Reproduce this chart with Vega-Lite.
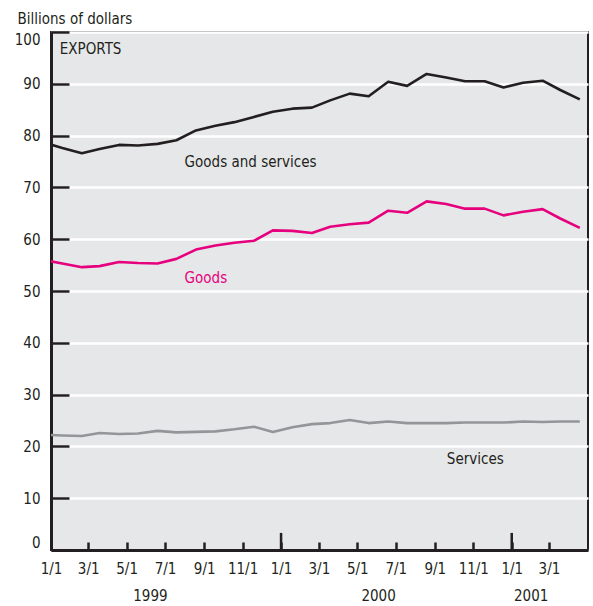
{
  "$schema": "https://vega.github.io/schema/vega-lite/v6.json",
  "width": 537,
  "height": 518,
  "autosize": "none",
  "padding": {"left": 51, "top": 32, "right": 5, "bottom": 56},
  "background": "white",
  "config": {
    "font": "DejaVu Sans Condensed, Roboto, sans-serif",
    "view": {"fill": "#e6e7e8", "stroke": "#231f20", "strokeWidth": 2}
  },
  "datasets": {
    "lines": [
      {"date": "1998-12-19", "series": "Goods and services", "value": 78.7},
      {"date": "1999-01-19", "series": "Goods and services", "value": 77.6},
      {"date": "1999-02-19", "series": "Goods and services", "value": 76.6},
      {"date": "1999-03-19", "series": "Goods and services", "value": 77.4},
      {"date": "1999-04-19", "series": "Goods and services", "value": 78.2},
      {"date": "1999-05-19", "series": "Goods and services", "value": 78.1},
      {"date": "1999-06-19", "series": "Goods and services", "value": 78.4},
      {"date": "1999-07-19", "series": "Goods and services", "value": 79.1},
      {"date": "1999-08-19", "series": "Goods and services", "value": 81.0},
      {"date": "1999-09-19", "series": "Goods and services", "value": 81.9},
      {"date": "1999-10-19", "series": "Goods and services", "value": 82.6},
      {"date": "1999-11-19", "series": "Goods and services", "value": 83.6},
      {"date": "1999-12-19", "series": "Goods and services", "value": 84.6},
      {"date": "2000-01-19", "series": "Goods and services", "value": 85.2},
      {"date": "2000-02-19", "series": "Goods and services", "value": 85.4},
      {"date": "2000-03-19", "series": "Goods and services", "value": 86.8},
      {"date": "2000-04-19", "series": "Goods and services", "value": 88.1},
      {"date": "2000-05-19", "series": "Goods and services", "value": 87.6},
      {"date": "2000-06-19", "series": "Goods and services", "value": 90.4},
      {"date": "2000-07-19", "series": "Goods and services", "value": 89.6},
      {"date": "2000-08-19", "series": "Goods and services", "value": 91.9},
      {"date": "2000-09-19", "series": "Goods and services", "value": 91.2},
      {"date": "2000-10-19", "series": "Goods and services", "value": 90.5},
      {"date": "2000-11-19", "series": "Goods and services", "value": 90.5},
      {"date": "2000-12-19", "series": "Goods and services", "value": 89.3},
      {"date": "2001-01-19", "series": "Goods and services", "value": 90.2},
      {"date": "2001-02-19", "series": "Goods and services", "value": 90.6},
      {"date": "2001-03-19", "series": "Goods and services", "value": 88.8},
      {"date": "2001-04-19", "series": "Goods and services", "value": 87.0},
      {"date": "1998-12-19", "series": "Goods", "value": 56.0},
      {"date": "1999-01-19", "series": "Goods", "value": 55.3},
      {"date": "1999-02-19", "series": "Goods", "value": 54.6},
      {"date": "1999-03-19", "series": "Goods", "value": 54.8},
      {"date": "1999-04-19", "series": "Goods", "value": 55.6},
      {"date": "1999-05-19", "series": "Goods", "value": 55.4},
      {"date": "1999-06-19", "series": "Goods", "value": 55.3},
      {"date": "1999-07-19", "series": "Goods", "value": 56.2},
      {"date": "1999-08-19", "series": "Goods", "value": 58.0},
      {"date": "1999-09-19", "series": "Goods", "value": 58.8},
      {"date": "1999-10-19", "series": "Goods", "value": 59.3},
      {"date": "1999-11-19", "series": "Goods", "value": 59.7},
      {"date": "1999-12-19", "series": "Goods", "value": 61.7},
      {"date": "2000-01-19", "series": "Goods", "value": 61.6},
      {"date": "2000-02-19", "series": "Goods", "value": 61.2},
      {"date": "2000-03-19", "series": "Goods", "value": 62.4},
      {"date": "2000-04-19", "series": "Goods", "value": 62.9},
      {"date": "2000-05-19", "series": "Goods", "value": 63.2},
      {"date": "2000-06-19", "series": "Goods", "value": 65.5},
      {"date": "2000-07-19", "series": "Goods", "value": 65.1},
      {"date": "2000-08-19", "series": "Goods", "value": 67.3},
      {"date": "2000-09-19", "series": "Goods", "value": 66.8},
      {"date": "2000-10-19", "series": "Goods", "value": 65.9},
      {"date": "2000-11-19", "series": "Goods", "value": 65.9},
      {"date": "2000-12-19", "series": "Goods", "value": 64.6},
      {"date": "2001-01-19", "series": "Goods", "value": 65.3},
      {"date": "2001-02-19", "series": "Goods", "value": 65.8},
      {"date": "2001-03-19", "series": "Goods", "value": 64.0},
      {"date": "2001-04-19", "series": "Goods", "value": 62.2},
      {"date": "1998-12-19", "series": "Services", "value": 22.25},
      {"date": "1999-01-19", "series": "Services", "value": 22.1},
      {"date": "1999-02-19", "series": "Services", "value": 22.0},
      {"date": "1999-03-19", "series": "Services", "value": 22.6},
      {"date": "1999-04-19", "series": "Services", "value": 22.4},
      {"date": "1999-05-19", "series": "Services", "value": 22.5},
      {"date": "1999-06-19", "series": "Services", "value": 23.0},
      {"date": "1999-07-19", "series": "Services", "value": 22.7},
      {"date": "1999-08-19", "series": "Services", "value": 22.8},
      {"date": "1999-09-19", "series": "Services", "value": 22.9},
      {"date": "1999-10-19", "series": "Services", "value": 23.3},
      {"date": "1999-11-19", "series": "Services", "value": 23.8},
      {"date": "1999-12-19", "series": "Services", "value": 22.8},
      {"date": "2000-01-19", "series": "Services", "value": 23.7},
      {"date": "2000-02-19", "series": "Services", "value": 24.3},
      {"date": "2000-03-19", "series": "Services", "value": 24.5},
      {"date": "2000-04-19", "series": "Services", "value": 25.1},
      {"date": "2000-05-19", "series": "Services", "value": 24.5},
      {"date": "2000-06-19", "series": "Services", "value": 24.8},
      {"date": "2000-07-19", "series": "Services", "value": 24.5},
      {"date": "2000-08-19", "series": "Services", "value": 24.5},
      {"date": "2000-09-19", "series": "Services", "value": 24.5},
      {"date": "2000-10-19", "series": "Services", "value": 24.6},
      {"date": "2000-11-19", "series": "Services", "value": 24.6},
      {"date": "2000-12-19", "series": "Services", "value": 24.6},
      {"date": "2001-01-19", "series": "Services", "value": 24.8},
      {"date": "2001-02-19", "series": "Services", "value": 24.7},
      {"date": "2001-03-19", "series": "Services", "value": 24.8},
      {"date": "2001-04-19", "series": "Services", "value": 24.8}
    ],
    "notes": [
      {"date": "1999-01-15", "value": 95.7, "label": "EXPORTS"},
      {"date": "1999-08-01", "value": 73.9, "label": "Goods and services"},
      {"date": "1999-08-01", "value": 51.6, "label": "Goods"},
      {"date": "2000-09-20", "value": 16.6, "label": "Services"}
    ],
    "years": [
      {"date": "2000-01-01"},
      {"date": "2001-01-01"}
    ]
  },
  "layer": [
    {
      "data": {"name": "lines"},
      "mark": {"type": "line", "clip": true, "strokeJoin": "round"},
      "encoding": {
        "x": {
          "field": "date",
          "type": "temporal",
          "scale": {
            "type": "utc",
            "domain": [
              {"year": 1999, "month": 1, "date": 1, "utc": true},
              {"year": 2001, "month": 5, "date": 2, "utc": true}
            ]
          },
          "axis": {
            "orient": "bottom",
            "values": [
              {"year": 1999, "month": 1, "date": 1, "utc": true},
              {"year": 1999, "month": 3, "date": 1, "utc": true},
              {"year": 1999, "month": 5, "date": 1, "utc": true},
              {"year": 1999, "month": 7, "date": 1, "utc": true},
              {"year": 1999, "month": 9, "date": 1, "utc": true},
              {"year": 1999, "month": 11, "date": 1, "utc": true},
              {"year": 2000, "month": 1, "date": 1, "utc": true},
              {"year": 2000, "month": 3, "date": 1, "utc": true},
              {"year": 2000, "month": 5, "date": 1, "utc": true},
              {"year": 2000, "month": 7, "date": 1, "utc": true},
              {"year": 2000, "month": 9, "date": 1, "utc": true},
              {"year": 2000, "month": 11, "date": 1, "utc": true},
              {"year": 2001, "month": 1, "date": 1, "utc": true},
              {"year": 2001, "month": 3, "date": 1, "utc": true}
            ],
            "labelExpr": "utcFormat(datum.value, '%-m/%-d')",
            "title": null,
            "grid": false,
            "tickSize": -8,
            "tickWidth": 2.5,
            "tickColor": "#231f20",
            "domainColor": "#231f20",
            "domainWidth": 3,
            "labelPadding": 19,
            "labelFlush": false,
            "labelFontSize": 15,
            "labelColor": "#231f20"
          }
        },
        "y": {
          "field": "value",
          "type": "quantitative",
          "scale": {"domain": [0, 100], "nice": false},
          "axis": {
            "values": [0, 10, 20, 30, 40, 50, 60, 70, 80, 90, 100],
            "title": "Billions of dollars",
            "titleAngle": 0,
            "titleAlign": "left",
            "titleBaseline": "alphabetic",
            "titleX": -34,
            "titleY": -9,
            "titleFontSize": 15,
            "titleFontWeight": "normal",
            "titleColor": "#231f20",
            "grid": true,
            "gridColor": "white",
            "gridWidth": 2.5,
            "tickSize": -18,
            "tickWidth": 2.5,
            "tickColor": "#231f20",
            "domainColor": "#231f20",
            "domainWidth": 3,
            "labelPadding": 29,
            "labelFlush": true,
            "labelFontSize": 15,
            "labelColor": "#231f20"
          }
        },
        "color": {
          "field": "series",
          "type": "nominal",
          "scale": {"domain": ["Goods and services", "Goods", "Services"], "range": ["#231f20", "#e6007e", "#939598"]},
          "legend": null
        },
        "strokeWidth": {
          "field": "series",
          "type": "nominal",
          "scale": {"domain": ["Goods and services", "Goods", "Services"], "range": [2.6, 2.6, 5]},
          "legend": null
        }
      }
    },
    {
      "data": {"name": "notes"},
      "mark": {"type": "text", "align": "left", "baseline": "alphabetic", "fontSize": 15},
      "encoding": {
        "x": {"field": "date", "type": "temporal", "axis": null},
        "y": {"field": "value", "type": "quantitative"},
        "text": {"field": "label"},
        "color": {"condition": {"test": "datum.label == 'Goods'", "value": "#e6007e"}, "value": "#231f20"}
      }
    },
    {
      "data": {"name": "years"},
      "mark": {"type": "rule", "color": "#231f20", "strokeWidth": 2.5},
      "encoding": {
        "x": {
          "field": "date",
          "type": "temporal",
          "axis": {
            "orient": "bottom",
            "values": [
              {"year": 1999, "month": 6, "date": 7, "utc": true},
              {"year": 2000, "month": 6, "date": 3, "utc": true},
              {"year": 2001, "month": 1, "date": 31, "utc": true}
            ],
            "labelExpr": "utcFormat(datum.value, '%Y')",
            "title": null,
            "grid": false,
            "ticks": false,
            "domain": false,
            "labelPadding": 38,
            "labelFlush": false,
            "labelFontSize": 15,
            "labelColor": "#231f20"
          }
        },
        "y": {"datum": 0},
        "y2": {"datum": 3.3}
      }
    }
  ],
  "resolve": {"axis": {"x": "independent"}}
}
